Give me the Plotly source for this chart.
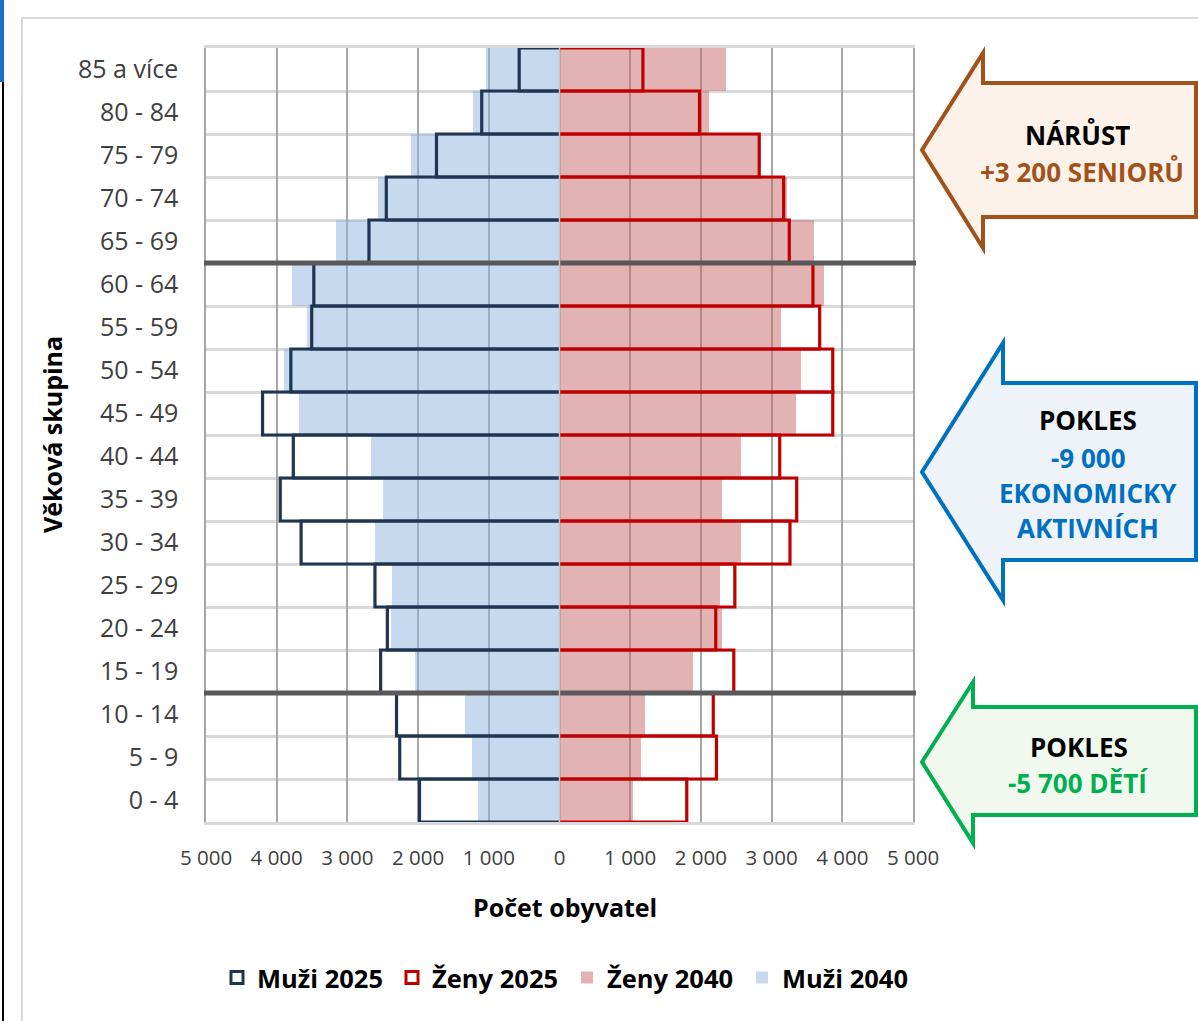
import plotly.graph_objects as go

# ---------------- data ----------------
categories = ["0 - 4", "5 - 9", "10 - 14", "15 - 19", "20 - 24", "25 - 29", "30 - 34",
              "35 - 39", "40 - 44", "45 - 49", "50 - 54", "55 - 59", "60 - 64",
              "65 - 69", "70 - 74", "75 - 79", "80 - 84", "85 a více"]
muzi_2025 = [1980, 2260, 2305, 2530, 2435, 2610, 3655, 3950, 3765, 4200,
             3800, 3505, 3475, 2695, 2450, 1740, 1100, 570]
muzi_2040 = [1150, 1235, 1330, 2045, 2385, 2370, 2610, 2500, 2660, 3680,
             3895, 3570, 3785, 3160, 2565, 2100, 1220, 1040]
zeny_2025 = [1800, 2220, 2175, 2465, 2210, 2480, 3260, 3355, 3115, 3865,
             3865, 3680, 3585, 3250, 3170, 2825, 1980, 1180]
zeny_2040 = [1040, 1150, 1215, 1885, 2305, 2275, 2565, 2305, 2565, 3345,
             3410, 3135, 3745, 3600, 3215, 2840, 2120, 2360]
x_ticks = [-5000, -4000, -3000, -2000, -1000, 0, 1000, 2000, 3000, 4000, 5000]
x_ticktext = [f"{abs(v):,}".replace(",", " ") for v in x_ticks]
seniors_from = "65 - 69"
active_from = "15 - 19"

# ---------------- layout geometry ----------------
W_FIG, H_FIG = 1198, 1021
L, R, T, B = 206, 913, 48, 822
PW, PH = R - L, B - T


def px(x):
    return (x - L) / PW


def py(y):
    return (B - y) / PH


FONT = "Open Sans"
NAVY = "#1f3552"
RED = "#c00000"

yidx = list(range(len(categories)))

fig = go.Figure()

# filled 2040 bars
fig.add_trace(go.Bar(
    y=yidx, x=[-v for v in muzi_2040], orientation="h", name="Muži 2040",
    marker=dict(color="rgba(143,179,224,0.5)", line=dict(width=0)),
    width=1.0, legendrank=4, hoverinfo="skip"))
fig.add_trace(go.Bar(
    y=yidx, x=zeny_2040, orientation="h", name="Ženy 2040",
    marker=dict(color="rgba(199,103,103,0.5)", line=dict(width=0)),
    width=1.0, legendrank=3, hoverinfo="skip"))


def outline(values, sign):
    xs, ys = [], []
    for i, v in zip(yidx, values):
        xs += [0, sign * v, sign * v, 0, None]
        ys += [i - 0.5, i - 0.5, i + 0.5, i + 0.5, None]
    return xs, ys


mx, my = outline(muzi_2025, -1)
zx, zy = outline(zeny_2025, 1)
fig.add_trace(go.Scatter(x=mx, y=my, mode="lines", line=dict(color=NAVY, width=3.2),
                         showlegend=False, legendgroup="m25", hoverinfo="skip"))
fig.add_trace(go.Scatter(x=zx, y=zy, mode="lines", line=dict(color=RED, width=3.2),
                         showlegend=False, legendgroup="z25", hoverinfo="skip"))

# legend entries for the outlined 2025 series
fig.add_trace(go.Bar(y=[None], x=[None], orientation="h", name="Muži 2025",
                     marker=dict(color="rgba(255,255,255,0)", line=dict(color=NAVY, width=3)),
                     legendgroup="m25", legendrank=1))
fig.add_trace(go.Bar(y=[None], x=[None], orientation="h", name="Ženy 2025",
                     marker=dict(color="rgba(255,255,255,0)", line=dict(color=RED, width=3)),
                     legendgroup="z25", legendrank=2))

shapes = []
# separator lines between age groups
for cat in (seniors_from, active_from):
    yb = categories.index(cat) - 0.5
    shapes.append(dict(type="line", xref="paper", yref="y", x0=px(L - 2), x1=px(R + 3),
                       y0=yb, y1=yb, line=dict(color="#595959", width=5), layer="above"))
# vertical category axis at zero
shapes.append(dict(type="line", xref="x", yref="paper", x0=0, x1=0, y0=0, y1=1,
                   line=dict(color="#c4c4c4", width=1.5), layer="above"))

# chart-area frame and sheet edge
shapes.append(dict(type="rect", xref="paper", yref="paper", x0=px(22), x1=px(1215),
                   y0=py(1040), y1=py(18), line=dict(color="#d9d9d9", width=2),
                   fillcolor="rgba(0,0,0,0)", layer="below"))
shapes.append(dict(type="line", xref="paper", yref="paper", x0=px(3), x1=px(3),
                   y0=py(0), y1=py(1021), line=dict(color="#000000", width=2)))
shapes.append(dict(type="rect", xref="paper", yref="paper", x0=px(0), x1=px(4),
                   y0=py(82), y1=py(0), line=dict(width=0), fillcolor="#1f6fc5"))


def arrow(tip_x, tip_y, head_x, head_top, shaft_top, shaft_bot, head_bot, right_x):
    pts = [(tip_x, tip_y), (head_x, head_top), (head_x, shaft_top), (right_x, shaft_top),
           (right_x, shaft_bot), (head_x, shaft_bot), (head_x, head_bot)]
    return "M " + " L ".join(f"{px(a):.5f},{py(b):.5f}" for a, b in pts) + " Z"


arrows = [
    (arrow(922, 150, 983, 53, 83, 217, 248, 1196), "#a0521a", "#fdf2ea"),
    (arrow(922, 472, 1003, 343, 383, 560, 600, 1196), "#0070c0", "#eef3fa"),
    (arrow(922, 762, 973, 682, 707, 815, 843, 1196), "#00b050", "#f1f8ee"),
]
for path, col, fill in arrows:
    shapes.append(dict(type="path", xref="paper", yref="paper", path=path,
                       line=dict(color=col, width=4), fillcolor=fill, layer="above"))

annotations = []


def label(text, x, y, color="#000000", size=26, **kw):
    annotations.append(dict(text=text, x=px(x), y=py(y), xref="paper", yref="paper",
                            showarrow=False, xanchor="center", yanchor="middle",
                            font=dict(family=FONT, size=size, color=color, weight="bold"),
                            **kw))


label("NÁRŮST", 1077, 135)
label("+3 200 SENIORŮ", 1082, 172, color="#a0521a")
label("POKLES", 1088, 420)
label("-9 000", 1088, 458, color="#0070c0")
label("EKONOMICKY", 1088, 493, color="#0070c0")
label("AKTIVNÍCH", 1088, 528, color="#0070c0")
label("POKLES", 1079, 747)
label("-5 700 DĚTÍ", 1078, 783, color="#00b050")

label("Počet obyvatel", 565, 907, size=25)
label("Věková skupina", 52, 435, size=25, textangle=-90)

fig.update_layout(
    width=W_FIG, height=H_FIG,
    margin=dict(l=L, r=W_FIG - R, t=T, b=H_FIG - B, autoexpand=False),
    paper_bgcolor="#ffffff", plot_bgcolor="#ffffff",
    barmode="overlay", bargap=0,
    font=dict(family=FONT, color="#404040"),
    shapes=shapes, annotations=annotations,
    legend=dict(orientation="h", x=px(217), xanchor="left", y=py(978), yanchor="middle",
                font=dict(family=FONT, size=25.5, color="#000000", weight="bold"),
                itemwidth=30, entrywidth=130, entrywidthmode="pixels",
                bgcolor="rgba(0,0,0,0)", traceorder="normal"),
    xaxis=dict(range=[x_ticks[0], x_ticks[-1]], tickmode="array", tickvals=x_ticks,
               ticktext=x_ticktext, showgrid=True, gridcolor="#a6a6a6", gridwidth=1.5,
               zeroline=True, zerolinecolor="#c4c4c4", zerolinewidth=1.5,
               ticks="", ticklabelstandoff=16,
               showline=True, mirror=True, linecolor="#d9d9d9", linewidth=2.5,
               tickfont=dict(family=FONT, size=20.5, color="#404040"), fixedrange=True),
    yaxis=dict(range=[-0.5, len(categories) - 0.5], tickmode="array", tickvals=yidx,
               ticktext=categories, showgrid=False, zeroline=False, ticks="",
               ticklabelstandoff=21,
               showline=True, mirror=True, linecolor="#a6a6a6", linewidth=1.5,
               tickfont=dict(family=FONT, size=25, color="#404040"),
               minor=dict(tickmode="array", tickvals=[i - 0.5 for i in range(len(categories) + 1)],
                          showgrid=True, gridcolor="#d9d9d9", gridwidth=2.5, ticks=""),
               fixedrange=True),
    showlegend=True,
)

fig.write_html("out.html", config={"displayModeBar": False},
               post_script="document.body.style.margin='0px';")
